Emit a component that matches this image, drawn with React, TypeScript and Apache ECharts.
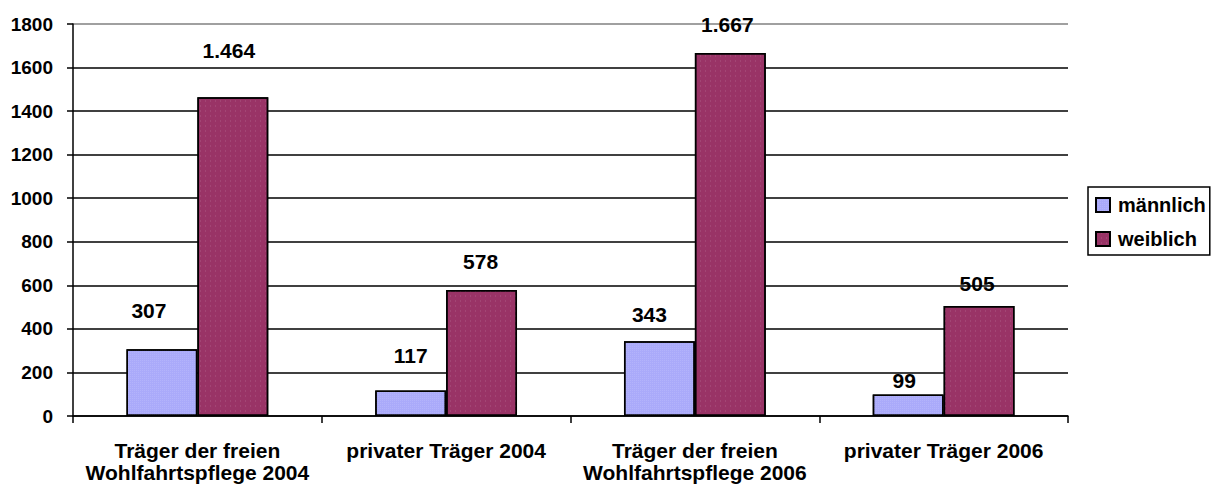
import React, { useEffect, useRef } from "react";
import * as echarts from "echarts";

const categories = [
  "Träger der freien\nWohlfahrtspflege 2004",
  "privater Träger 2004",
  "Träger der freien\nWohlfahrtspflege 2006",
  "privater Träger 2006",
];
const maleValues = [307, 117, 343, 99];
const femaleValues = [1464, 578, 1667, 505];
const seriesNames = ["männlich", "weiblich"];

// label placement nudges (style only, px)
const maleLabelLift = [39, 35, 27, 14];
const femaleLabelLift = [47, 29, 28, 23];
const maleLabelShift = [-13, 0, -10, -4];
const femaleLabelShift = [-4, -1, -3, -2];

const fmt = (v: number) => String(v).replace(/\B(?=(\d{3})+(?!\d))/g, ".");

export default function App() {
  const ref = useRef<HTMLDivElement>(null);
  useEffect(() => {
    document.body.style.margin = "0";
    const chart = echarts.init(ref.current!, null, { renderer: "svg" });
    const font = {
      fontFamily: "'Liberation Sans', Arial, sans-serif",
      fontWeight: "bold" as const,
      color: "#000",
    };
    const baseLabel = {
      show: true,
      position: "top" as const,
      formatter: (p: any) => fmt(p.value),
      fontSize: 21,
      lineHeight: 22,
      ...font,
    };
    const build = (vals: number[], lift: number[], shift: number[]) =>
      vals.map((v, i) => ({
        value: v,
        label: { distance: lift[i] - 11, offset: [shift[i], 0] },
      }));
    chart.setOption({
      animation: false,
      backgroundColor: "#fff",
      grid: { left: 73, right: 145, top: 24, bottom: 70 },
      legend: {
        orient: "vertical",
        left: 1088,
        top: 187,
        padding: [6, 4, 4, 7],
        itemGap: 10,
        itemWidth: 14,
        itemHeight: 14,
        borderColor: "#000",
        borderWidth: 1.5,
        icon: "rect",
        textStyle: { ...font, fontSize: 20, lineHeight: 24, padding: [0, 0, 0, 3] },
        data: seriesNames,
      },
      xAxis: {
        type: "category",
        data: categories,
        axisLine: { lineStyle: { color: "#000", width: 1.5 } },
        axisTick: { show: true, length: 7, lineStyle: { color: "#000", width: 1.5 } },
        axisLabel: { ...font, fontSize: 21, margin: 23, lineHeight: 22, interval: 0 },
      },
      yAxis: {
        type: "value",
        min: 0,
        max: 1800,
        interval: 200,
        axisLine: { show: true, lineStyle: { color: "#000", width: 1.5 } },
        axisTick: { show: true, length: 6, lineStyle: { color: "#000", width: 1.5 } },
        axisLabel: { ...font, fontSize: 19, margin: 20, formatter: (v: number) => String(v) },
        splitLine: {
          lineStyle: {
            color: ["#000", "#000", "#000", "#000", "#000", "#000", "#000", "#000", "#000", "#808080"],
            width: 1.5,
          },
        },
      },
      series: [
        {
          name: seriesNames[0],
          type: "bar",
          data: build(maleValues, maleLabelLift, maleLabelShift),
          barGap: "0%",
          barCategoryGap: "43%",
          itemStyle: {
            color: "#aaaafa",
            borderColor: "#000",
            borderWidth: 1.5,
            decal: {
              symbol: "rect",
              symbolSize: 0.6,
              dashArrayX: [1, 1],
              dashArrayY: [1, 1],
              color: "rgba(255,255,255,0.35)",
              rotation: 0,
            },
          },
          label: baseLabel,
        },
        {
          name: seriesNames[1],
          type: "bar",
          data: build(femaleValues, femaleLabelLift, femaleLabelShift),
          itemStyle: {
            color: "#993366",
            borderColor: "#000",
            borderWidth: 1.5,
            decal: {
              symbol: "rect",
              symbolSize: 0.5,
              dashArrayX: [1, 4],
              dashArrayY: [2, 3],
              color: "rgba(255,255,255,0.35)",
              rotation: 0,
            },
          },
          label: baseLabel,
        },
      ],
    });
    return () => chart.dispose();
  }, []);
  return <div ref={ref} style={{ width: 1213, height: 486 }} />;
}
